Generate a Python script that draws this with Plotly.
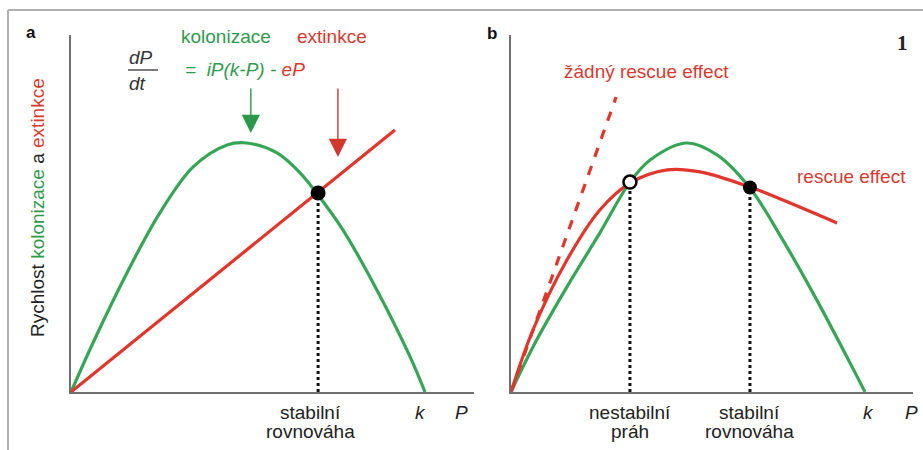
import plotly.graph_objects as go

W, H = 923, 450

# ---------------- data (P in units of k, rate relative to max colonisation) -------------
# Panel a
a_col_P = [0.0, 0.062, 0.158, 0.251, 0.345, 0.441, 0.497, 0.582, 0.647, 0.698, 0.768, 0.864, 0.958, 1.0]
a_col_R = [0.0, 0.197, 0.478, 0.719, 0.904, 0.992, 1.0, 0.960, 0.880, 0.791, 0.651, 0.410, 0.141, 0.0]
a_ext_P = [0.0, 0.915]
a_ext_R = [0.0, 1.052]
a_eq_P = [0.698]
a_eq_R = [0.799]

# Panel b
b_col_P = [0.0, 0.062, 0.158, 0.251, 0.336, 0.393, 0.497, 0.582, 0.675, 0.768, 0.864, 0.958, 1.0]
b_col_R = [0.0, 0.181, 0.422, 0.639, 0.843, 0.932, 1.0, 0.952, 0.819, 0.610, 0.369, 0.116, 0.0]
b_res_P = [0.0, 0.062, 0.158, 0.251, 0.336, 0.441, 0.534, 0.675, 0.768, 0.921]
b_res_R = [0.0, 0.249, 0.530, 0.731, 0.839, 0.892, 0.884, 0.823, 0.771, 0.679]
b_nores_P = [0.0, 0.297]
b_nores_R = [0.0, 1.185]
b_unstable_P = [0.336]
b_unstable_R = [0.843]
b_stable_P = [0.675]
b_stable_R = [0.821]

# tick-like labels
a_tick_lines = [["stabilní", "rovnováha"]]
b_tick_lines = [["nestabilní", "práh"], ["stabilní", "rovnováha"]]
k_label = "k"
P_label = "P"

GREEN = "#36a656"
RED = "#e0362c"
GREEN_T = "#2f9a4c"
RED_T = "#d83a30"
AXIS = "#707070"
FONT = "Liberation Sans, Arial, sans-serif"

def px(x):
    return x / W

def py(y):
    return 1 - y / H

fig = go.Figure()

line_w = 3.2
# panel a
fig.add_trace(go.Scatter(x=a_col_P, y=a_col_R, mode="lines", line=dict(color=GREEN, width=line_w, shape="spline", smoothing=1.0),
                         xaxis="x", yaxis="y", cliponaxis=False))
fig.add_trace(go.Scatter(x=a_ext_P, y=a_ext_R, mode="lines", line=dict(color=RED, width=line_w),
                         xaxis="x", yaxis="y", cliponaxis=False))
fig.add_trace(go.Scatter(x=[a_eq_P[0], a_eq_P[0]], y=[0, a_eq_R[0]], mode="lines",
                         line=dict(color="#111", width=3, dash="dot"), xaxis="x", yaxis="y"))
fig.add_trace(go.Scatter(x=a_eq_P, y=a_eq_R, mode="markers", marker=dict(color="black", size=15),
                         xaxis="x", yaxis="y", cliponaxis=False))

# panel b
fig.add_trace(go.Scatter(x=b_col_P, y=b_col_R, mode="lines", line=dict(color=GREEN, width=line_w, shape="spline", smoothing=1.0),
                         xaxis="x2", yaxis="y2", cliponaxis=False))
fig.add_trace(go.Scatter(x=b_res_P, y=b_res_R, mode="lines", line=dict(color=RED, width=line_w, shape="spline", smoothing=1.0),
                         xaxis="x2", yaxis="y2", cliponaxis=False))
fig.add_trace(go.Scatter(x=b_nores_P, y=b_nores_R, mode="lines", line=dict(color=RED, width=line_w, dash="dash"),
                         xaxis="x2", yaxis="y2", cliponaxis=False))
for xp, yp in [(b_unstable_P[0], b_unstable_R[0]), (b_stable_P[0], b_stable_R[0])]:
    fig.add_trace(go.Scatter(x=[xp, xp], y=[0, yp], mode="lines",
                             line=dict(color="#111", width=3, dash="dot"), xaxis="x2", yaxis="y2"))
fig.add_trace(go.Scatter(x=b_unstable_P, y=b_unstable_R, mode="markers",
                         marker=dict(color="white", size=13, line=dict(color="black", width=2.5)),
                         xaxis="x2", yaxis="y2", cliponaxis=False))
fig.add_trace(go.Scatter(x=b_stable_P, y=b_stable_R, mode="markers", marker=dict(color="black", size=14),
                         xaxis="x2", yaxis="y2", cliponaxis=False))

ax_common = dict(showgrid=False, zeroline=False, showticklabels=False, ticks="",
                 showline=True, linecolor=AXIS, linewidth=2.2, fixedrange=True)
ydom = [py(392), py(35)]
yrange = [0, 357 / 249]
fig.update_layout(
    width=W, height=H,
    margin=dict(l=0, r=0, t=0, b=0),
    paper_bgcolor="white", plot_bgcolor="white",
    showlegend=False,
    xaxis=dict(domain=[px(71), px(474)], range=[0, 403 / 354], anchor="y", **ax_common),
    yaxis=dict(domain=ydom, range=yrange, anchor="x", **ax_common),
    xaxis2=dict(domain=[px(511), px(913)], range=[0, 402 / 354], anchor="y2", **ax_common),
    yaxis2=dict(domain=ydom, range=yrange, anchor="x2", **ax_common),
    font=dict(family=FONT, size=19, color="#222"),
)

ann = []

def txt(x, y, text, size=19, color="#222", xanchor="center", yanchor="middle", **kw):
    d = dict(x=x, y=y, xref="paper", yref="paper", text=text, showarrow=False,
             font=dict(family=kw.pop("family", FONT), size=size, color=color),
             xanchor=xanchor, yanchor=yanchor)
    d.update(kw)
    ann.append(d)

# tick-style labels below the axes
def axis_labels(xref, positions, lines_list, xshift=0):
    for p, lines in zip(positions, lines_list):
        for i, ln in enumerate(lines):
            ann.append(dict(x=p, y=py(412 + 19.5 * i), xref=xref, yref="paper", text=ln, showarrow=False,
                            font=dict(family=FONT, size=19, color="#222"), xanchor="center",
                            yanchor="middle", xshift=xshift))

axis_labels("x", a_eq_P, a_tick_lines, xshift=-8)
axis_labels("x2", [b_unstable_P[0], b_stable_P[0]], b_tick_lines)
for xr, kshift in [("x", -5), ("x2", 3)]:
    ann.append(dict(x=1.0, y=py(412), xref=xr, yref="paper", text="<i>%s</i>" % k_label, showarrow=False,
                    font=dict(family=FONT, size=19, color="#222"), xanchor="center", yanchor="middle", xshift=kshift))
for xp in (462, 911):
    ann.append(dict(x=px(xp), y=py(412), xref="paper", yref="paper", text="<i>%s</i>" % P_label, showarrow=False,
                    font=dict(family=FONT, size=19, color="#222"), xanchor="center", yanchor="middle"))

# panel letters
txt(px(31), py(32), "<b>a</b>", size=17, color="#111")
txt(px(492), py(33), "<b>b</b>", size=17, color="#111")
txt(px(902), py(43), "<b>1</b>", size=21, color="#222", family="Liberation Serif, DejaVu Serif, serif")

# y axis title
txt(px(37), py(208),
    "Rychlost <span style='color:%s'>kolonizace</span> a <span style='color:%s'>extinkce</span>" % (GREEN_T, RED_T),
    size=19, textangle=-90)

# equation
txt(px(226), py(37), "kolonizace", color=GREEN_T)
txt(px(332), py(37), "extinkce", color=RED_T)
txt(px(141), py(58), "<i>dP</i>", color="#333")
txt(px(137), py(84), "<i>dt</i>", color="#333")
txt(px(183), py(69), "<span style='color:%s'><i>=  iP(k-P) - </i></span><span style='color:%s'><i>eP</i></span>" % (GREEN_T, RED_T),
    xanchor="left")

# arrows
ann.append(dict(x=0.508, y=(392 - 133) / 249, ax=0.508, ay=(392 - 87) / 249, xref="x", yref="y",
                axref="x", ayref="y", showarrow=True, arrowhead=2, arrowsize=2.6, arrowwidth=1.4,
                arrowcolor="#2a9a48", text=""))
ann.append(dict(x=0.754, y=(392 - 157) / 249, ax=0.754, ay=(392 - 87) / 249, xref="x", yref="y",
                axref="x", ayref="y", showarrow=True, arrowhead=2, arrowsize=2.6, arrowwidth=1.4,
                arrowcolor="#d0392e", text=""))

# panel b texts
txt(px(562), py(71), "žádný rescue effect", color=RED_T, xanchor="left")
txt(px(795), py(176), "rescue effect", color=RED_T, xanchor="left")

fig.update_layout(annotations=ann)

# frame and fraction bar
fig.add_shape(type="line", xref="paper", yref="paper", x0=px(8), y0=py(10), x1=1, y1=py(10),
              line=dict(color="#b0b0b0", width=2))
fig.add_shape(type="line", xref="paper", yref="paper", x0=px(8), y0=py(10), x1=px(8), y1=0,
              line=dict(color="#b0b0b0", width=2))
fig.add_shape(type="line", xref="paper", yref="paper", x0=px(128), y0=py(70), x1=px(158), y1=py(70),
              line=dict(color="#333", width=1.3))

fig.write_html("out.html",
               config={"displayModeBar": False, "staticPlot": True},
               post_script="document.documentElement.style.overflow='hidden';"
                           "document.body.style.margin='0';document.body.style.padding='0';"
                           "document.body.style.overflow='hidden';")
